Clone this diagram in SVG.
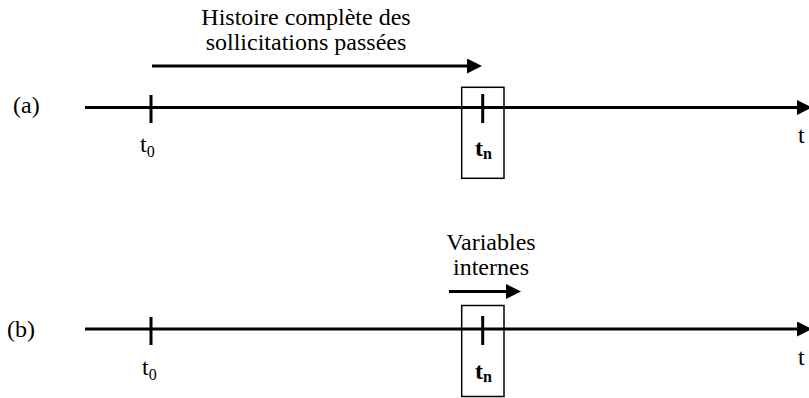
<svg xmlns="http://www.w3.org/2000/svg" width="809" height="398" viewBox="0 0 809 398">
<style>
.ax{stroke:#000;stroke-width:3;fill:none}
.tk{stroke:#000;stroke-width:3}
.bx{fill:none;stroke:#000;stroke-width:1.5}
text{font-family:'Liberation Serif','Times New Roman',Times,serif;font-size:24px;fill:#000}
.sub{font-size:16px}
.b{font-weight:bold}
</style>
<defs>
<marker id="ah" markerUnits="userSpaceOnUse" markerWidth="16" markerHeight="16" refX="0" refY="7.5" orient="auto">
<path d="M0,0 L15,7.5 L0,15 z" fill="#000"/>
</marker>
</defs>
<rect width="809" height="398" fill="#fff"/>
<g id="connectors">
<line class="ax" x1="85" y1="107.5" x2="797" y2="107.5" marker-end="url(#ah)"/>
<line class="ax" x1="85" y1="329" x2="797" y2="329" marker-end="url(#ah)"/>
<line class="ax" x1="152" y1="66" x2="467" y2="66" marker-end="url(#ah)"/>
<line class="ax" x1="449" y1="291.5" x2="506" y2="291.5" marker-end="url(#ah)"/>
</g>
<g id="row-a" font-family="Liberation Serif, serif">
<text x="13" y="113">(a)</text>
<line class="tk" x1="151" y1="95" x2="151" y2="123"/>
<text x="140" y="152">t<tspan class="sub" dy="5">0</tspan></text>
<text x="798" y="143">t</text>
<text text-anchor="middle" x="306" y="25">Histoire complète des</text>
<text text-anchor="middle" x="306" y="50">sollicitations passées</text>
</g>
<g id="tn-a">
<rect class="bx" x="461.7" y="87.3" width="42.3" height="91"/>
<line class="tk" x1="482.7" y1="94" x2="482.7" y2="123"/>
<text class="b" x="475" y="156">t<tspan class="sub" dy="3">n</tspan></text>
</g>
<g id="row-b">
<text x="7" y="337">(b)</text>
<line class="tk" x1="151" y1="317" x2="151" y2="345"/>
<text x="142" y="375">t<tspan class="sub" dy="5">0</tspan></text>
<text x="798" y="365">t</text>
<text text-anchor="middle" x="491" y="250">Variables</text>
<text text-anchor="middle" x="491" y="275">internes</text>
</g>
<g id="tn-b">
<rect class="bx" x="461.7" y="305.5" width="42.3" height="91"/>
<line class="tk" x1="482.7" y1="316" x2="482.7" y2="345"/>
<text class="b" x="475" y="379">t<tspan class="sub" dy="3">n</tspan></text>
</g>
</svg>
